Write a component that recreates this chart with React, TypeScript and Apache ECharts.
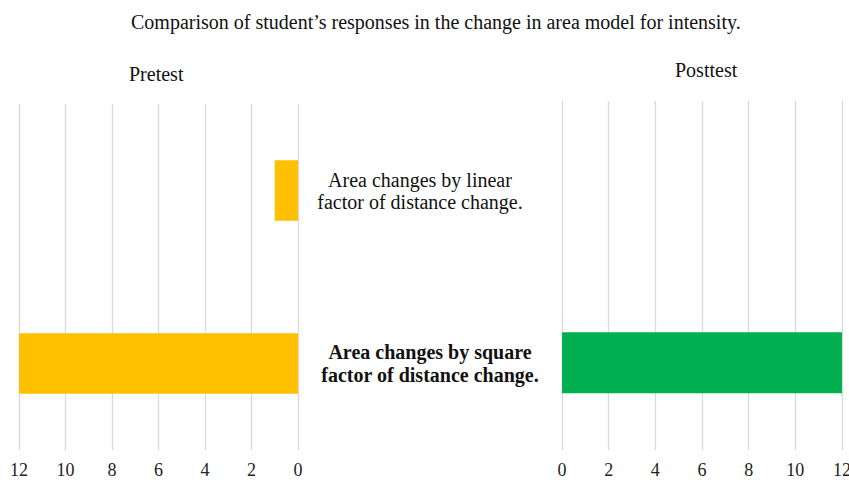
import React, { useEffect, useRef } from "react";
import * as echarts from "echarts";

const titleText = "Comparison of student’s responses in the change in area model for intensity.";
const panelTitles = ["Pretest", "Posttest"];
const categories = [
  "Area changes by linear\nfactor of distance change.",
  "Area changes by square\nfactor of distance change.",
];
const pretest = [1, 12];
const posttest = [0, 12];
const axisMax = 12;
const axisStep = 2;

const FONT = "'Liberation Serif', 'Times New Roman', serif";

export default function App() {
  const ref = useRef<HTMLDivElement>(null);
  useEffect(() => {
    if (!ref.current) return;
    const chart = echarts.init(ref.current, null, { renderer: "svg" });
    const tickLabel = { color: "#222", fontFamily: FONT, fontSize: 18, margin: 11 };
    const split = { show: true, lineStyle: { color: "#d9d9d9", width: 1.3 } };
    const ts = { fontFamily: FONT, fontSize: 20, fontWeight: "normal", color: "#111" };
    chart.setOption({
      animation: false,
      backgroundColor: "#ffffff",
      textStyle: { fontFamily: FONT },
      title: [
        { text: titleText, left: 126, top: 7, textStyle: ts },
        { text: panelTitles[0], left: 124, top: 59, textStyle: ts },
        { text: panelTitles[1], left: 670, top: 55, textStyle: ts },
      ],
      grid: [
        { left: 19, right: 551, top: 104, bottom: 30, outerBoundsMode: "none", containLabel: false },
        { left: 562, right: 7, top: 101, bottom: 30, outerBoundsMode: "none", containLabel: false },
      ],
      xAxis: [
        {
          gridIndex: 0,
          type: "value",
          inverse: true,
          min: 0,
          max: axisMax,
          interval: axisStep,
          axisLine: { show: false },
          axisTick: { show: false },
          axisLabel: tickLabel,
          splitLine: split,
        },
        {
          gridIndex: 1,
          type: "value",
          min: 0,
          max: axisMax,
          interval: axisStep,
          axisLine: { show: false },
          axisTick: { show: false },
          axisLabel: tickLabel,
          splitLine: split,
        },
      ],
      yAxis: [
        {
          gridIndex: 0,
          type: "category",
          data: categories,
          inverse: true,
          position: "right",
          axisLine: { show: false },
          axisTick: { show: false },
          splitLine: { show: false },
          axisLabel: {
            align: "center",
            margin: 127,
            formatter: (v: string, i: number) => {
              const lines = v.split("\n");
              const style = i === 1 ? "b" : "n";
              return lines.map((l) => `{${style}|${l}}`).join("\n");
            },
            rich: {
              n: { fontFamily: FONT, fontSize: 20, color: "#111", lineHeight: 22, padding: [0, 10, 0, 0] },
              b: { fontFamily: FONT, fontSize: 20, fontWeight: "bold", color: "#111", lineHeight: 23, padding: [0, 0, 0, 10] },
            },
          },
        },
        {
          gridIndex: 1,
          type: "category",
          data: categories,
          inverse: true,
          axisLine: { show: false },
          axisTick: { show: false },
          axisLabel: { show: false },
          splitLine: { show: false },
        },
      ],
      series: [
        {
          name: panelTitles[0],
          type: "bar",
          xAxisIndex: 0,
          yAxisIndex: 0,
          data: pretest,
          barWidth: "35%",
          itemStyle: { color: "#FFC000" },
        },
        {
          name: panelTitles[1],
          type: "bar",
          xAxisIndex: 1,
          yAxisIndex: 1,
          data: posttest,
          barWidth: "35%",
          itemStyle: { color: "#00B050" },
        },
      ],
    });
    return () => chart.dispose();
  }, []);
  return (
    <div
      ref={ref}
      style={{ position: "fixed", left: 0, top: 0, width: 849, height: 480, background: "#fff" }}
    />
  );
}
